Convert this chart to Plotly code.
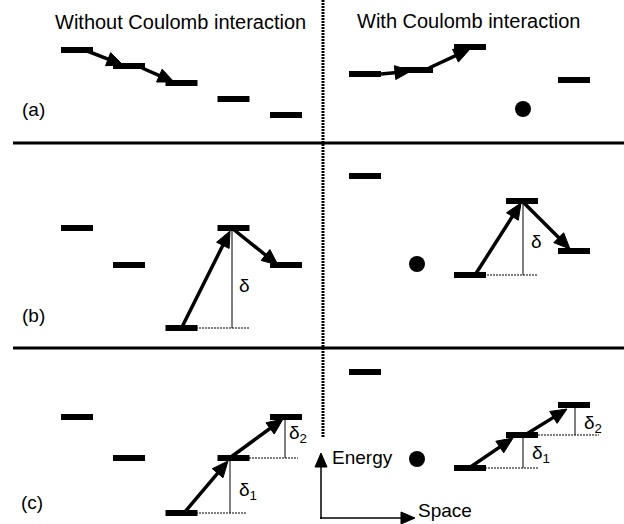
import math
import plotly.graph_objects as go

W, H = 624, 524

# ---- diagram data (pixel space: x to the right, y downward = lower energy) ----
left_sites = [77, 129, 181.5, 233.5, 286]
right_sites = [365, 417, 470, 522, 574]

# energy levels per panel (None = charged impurity site, drawn as a dot)
a_left = [50, 66, 83, 99, 115]
a_right = [74, 70, 47, None, 80]
b_left = [228, 265, 328, 228, 265]
b_right = [176, None, 275, 201, 251]
c_left = [417, 458, 513, 458, 417]
c_right = [372, None, 468, 435, 405]

dots_y = {"a": 109, "b": 264, "c": 459}

# hopping arrows: (tail x, tail y, tip x, tip y)
hops = [
    (82, 49, 123, 65), (142, 68, 174, 82),
    (381, 74, 411, 71), (429, 68, 470, 49),
    (182, 327, 230, 231), (233, 229, 278, 265),
    (475, 275, 521, 203), (524, 203, 570, 249),
    (184, 513, 228, 461), (231, 457, 283, 419),
    (469, 468, 513, 438), (525, 435, 567, 409),
]

# energy differences: (x, y_top, y_bottom, dotted start x, dotted end x)
gaps = [
    (232, 228, 328, 193, 249),
    (523, 201, 275, 484, 538),
    (230, 458, 513, 193, 247),
    (285, 417, 458, 246, 298),
    (523, 435, 468, 485, 539),
    (575, 405, 435, 538, 599),
]
gap_labels = [
    ("δ", 237, 285), ("δ", 529, 241),
    ("δ<sub>1</sub>", 237, 491), ("δ<sub>2</sub>", 287, 434),
    ("δ<sub>1</sub>", 530, 454), ("δ<sub>2</sub>", 582, 424),
]

titles = [("Without Coulomb interaction", 180, 22), ("With Coulomb interaction", 468, 21)]
panel_labels = [("(a)", 33, 109), ("(b)", 33, 315), ("(c)", 32, 502)]
separators_y = [143, 348]

BAR_W, BAR_H = 32, 6
FONT = "Arial, Liberation Sans, sans-serif"

shapes = []
annotations = []


def bar(xc, yc):
    shapes.append(dict(type="rect", x0=xc - BAR_W / 2, x1=xc + BAR_W / 2,
                       y0=yc - BAR_H / 2, y1=yc + BAR_H / 2,
                       fillcolor="black", line=dict(width=0)))


def dot(xc, yc, r=8):
    shapes.append(dict(type="circle", x0=xc - r, x1=xc + r, y0=yc - r, y1=yc + r,
                       fillcolor="black", line=dict(width=0)))


def arrow(x0, y0, x1, y1, hl=16, hw=7, lw=3.5):
    dx, dy = x1 - x0, y1 - y0
    d = math.hypot(dx, dy)
    ux, uy = dx / d, dy / d
    bx, by = x1 - ux * hl, y1 - uy * hl
    px, py = -uy, ux
    shapes.append(dict(type="line", x0=x0, y0=y0, x1=bx + ux * 2, y1=by + uy * 2,
                       line=dict(color="black", width=lw)))
    shapes.append(dict(type="path",
                       path=f"M {x1},{y1} L {bx + px * hw},{by + py * hw} L {bx - px * hw},{by - py * hw} Z",
                       fillcolor="black", line=dict(color="black", width=1)))


for sites, panels in ((left_sites, (a_left, b_left, c_left)),
                      (right_sites, (a_right, b_right, c_right))):
    for key, levels in zip("abc", panels):
        for xs, ys in zip(sites, levels):
            if ys is None:
                dot(xs + (1 if key == "a" else 0), dots_y[key])
            else:
                bar(xs, ys)

for h in hops:
    arrow(*h)

for x, yt, yb, xd0, xd1 in gaps:
    shapes.append(dict(type="line", x0=x, x1=x, y0=yt, y1=yb, line=dict(color="black", width=1)))
    shapes.append(dict(type="line", x0=xd0, x1=xd1, y0=yb, y1=yb,
                       line=dict(color="black", width=1.2, dash="2px,1px")))

for t, x, y in gap_labels:
    annotations.append(dict(text=t, x=x, y=y, xanchor="left", yanchor="middle", showarrow=False,
                            font=dict(family=FONT, size=19, color="black")))

for y in separators_y:
    shapes.append(dict(type="line", x0=13, x1=624, y0=y, y1=y, line=dict(color="black", width=3)))

# vertical dotted divider
shapes.append(dict(type="line", x0=323, x1=323, y0=0, y1=438,
                   line=dict(color="black", width=3, dash="2px,1px")))

for t, x, y in titles:
    annotations.append(dict(text=t, x=x, y=y, xanchor="center", yanchor="middle", showarrow=False,
                            font=dict(family=FONT, size=20, color="black")))
for t, x, y in panel_labels:
    annotations.append(dict(text=t, x=x, y=y, xanchor="center", yanchor="middle", showarrow=False,
                            font=dict(family=FONT, size=19, color="black")))

# Energy / Space axes
arrow(321, 519, 321, 453, hl=14, hw=6, lw=1.5)
arrow(320, 518, 415, 518, hl=14, hw=6, lw=1.5)
annotations.append(dict(text="Energy", x=330, y=457, xanchor="left", yanchor="middle", showarrow=False,
                        font=dict(family=FONT, size=19, color="black")))
annotations.append(dict(text="Space", x=416, y=510, xanchor="left", yanchor="middle", showarrow=False,
                        font=dict(family=FONT, size=19, color="black")))

fig = go.Figure()
fig.update_layout(
    width=W, height=H,
    margin=dict(l=0, r=0, t=0, b=0),
    paper_bgcolor="white", plot_bgcolor="white",
    xaxis=dict(range=[0, W], visible=False, fixedrange=True),
    yaxis=dict(range=[H, 0], visible=False, fixedrange=True),
    shapes=shapes, annotations=annotations, showlegend=False,
)
fig.write_html("out.html", config={"displayModeBar": False},
               post_script="document.body.style.margin='0';document.body.style.overflow='hidden';")
